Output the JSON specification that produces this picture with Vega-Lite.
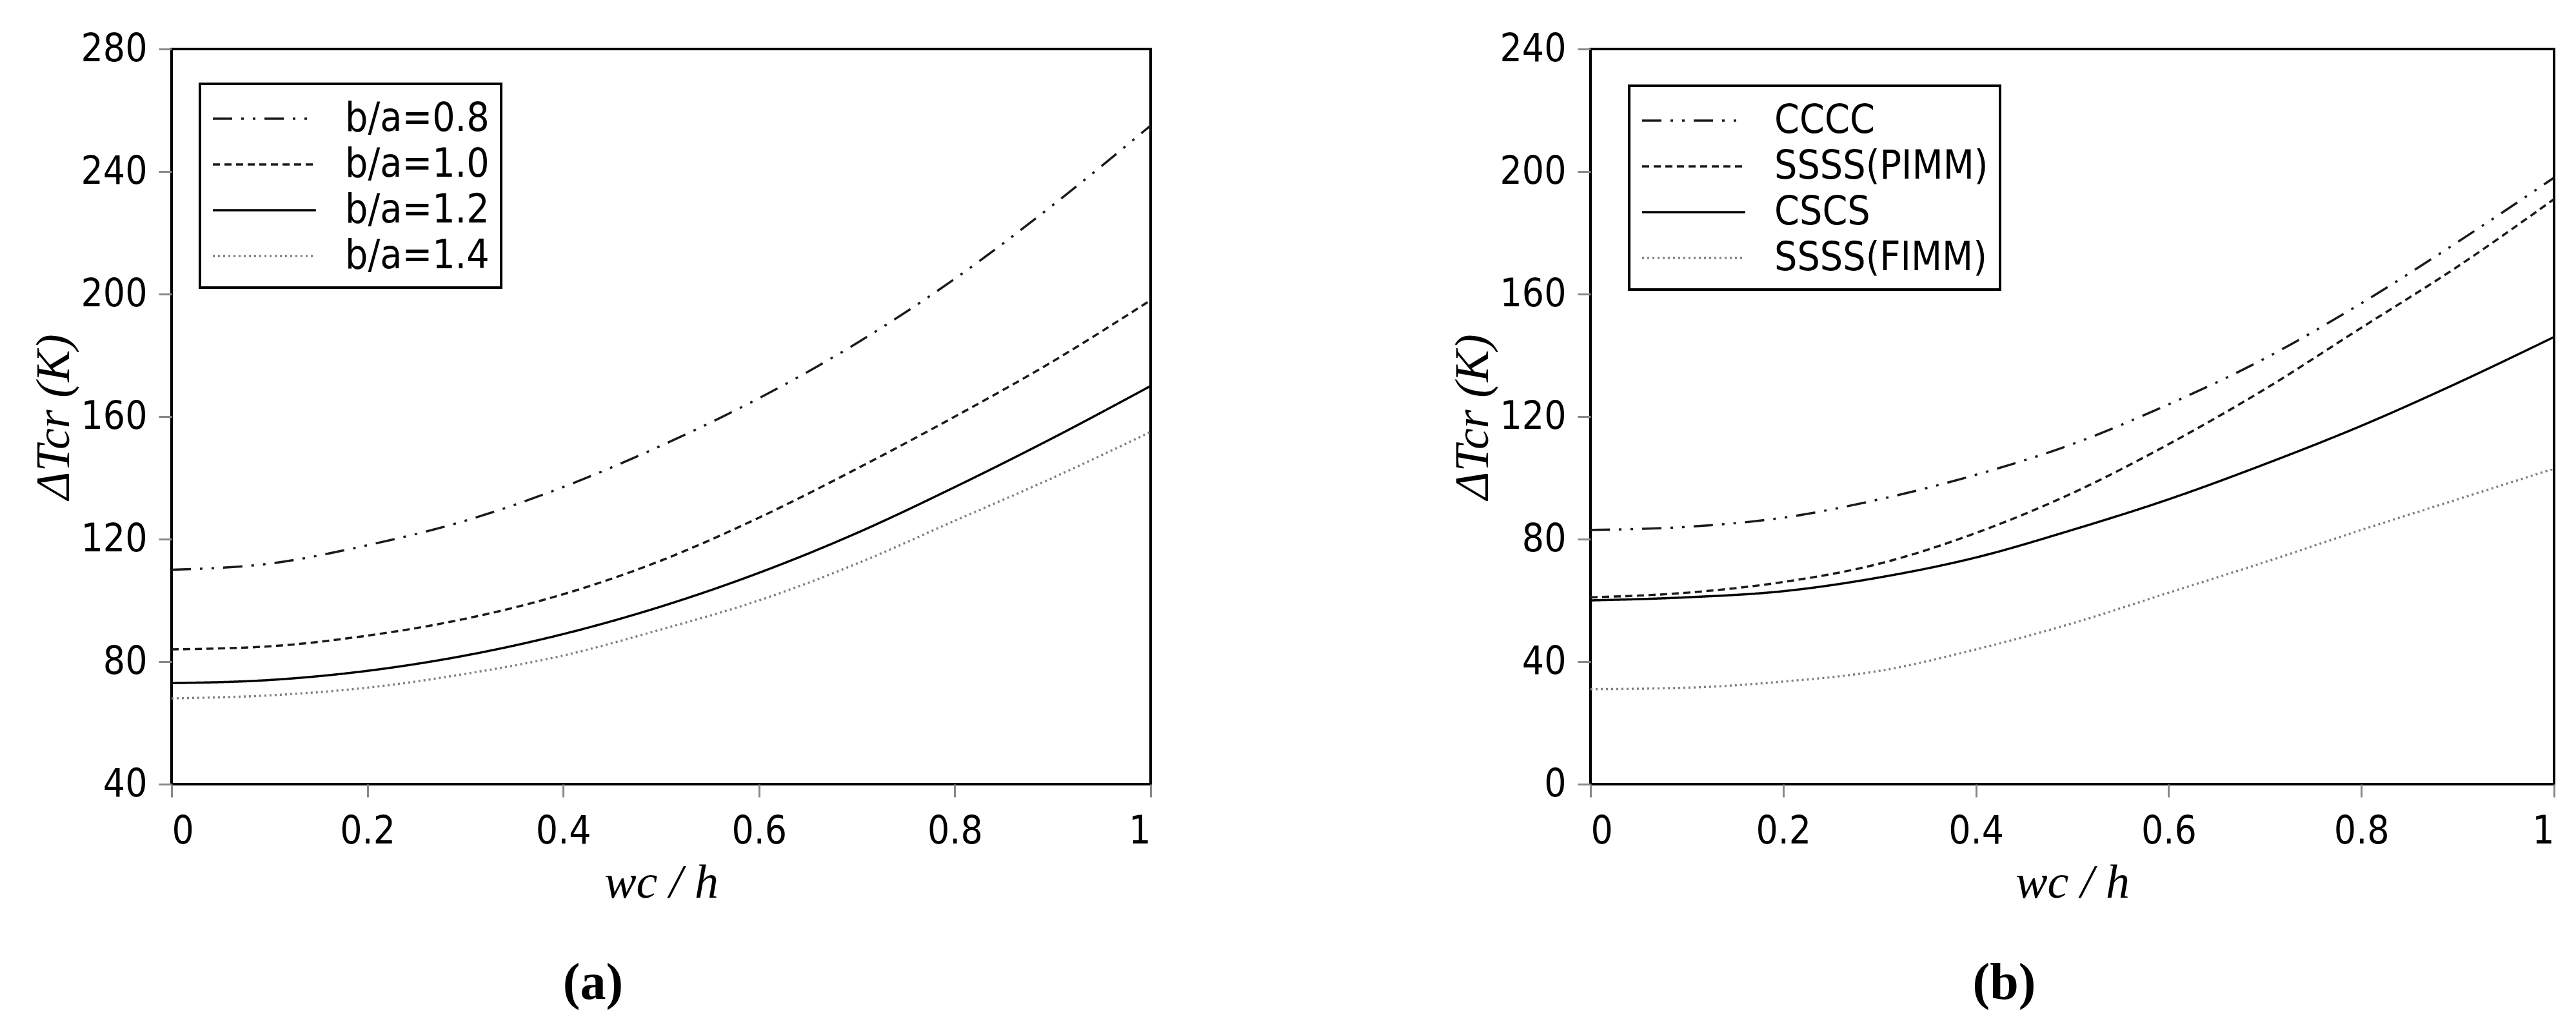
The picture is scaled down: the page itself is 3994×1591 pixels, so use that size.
{
  "$schema": "https://vega.github.io/schema/vega-lite/v6.json",
  "background": "white",
  "padding": {"left": 45, "top": 44, "right": 10, "bottom": 10},
  "spacing": 452,
  "config": {
    "view": {"stroke": "black", "strokeWidth": 4},
    "axis": {
      "domain": false, "grid": false, "ticks": true, "tickColor": "#888888", "tickWidth": 3, "tickSize": 20,
      "labelFont": "Liberation Sans Narrow, DejaVu Sans Condensed, Liberation Sans", "labelFontSize": 60, "labelColor": "black",
      "titleFont": "Liberation Serif", "titleFontStyle": "italic", "titleFontWeight": "normal", "titleFontSize": 74, "titleColor": "black"
    },
    "axisX": {"labelPadding": 24, "titlePadding": 14},
    "axisY": {"labelPadding": 18, "titlePadding": 2},
    "legend": {
      "orient": "none", "fillColor": "white", "strokeColor": "black", "strokeWidth": 4, "padding": 18,
      "symbolType": "M -1 0 L 3.7 0", "symbolSize": 4624, "symbolStrokeWidth": 3.5,
      "labelFont": "Liberation Sans Narrow, DejaVu Sans Condensed, Liberation Sans", "labelFontSize": 62, "labelColor": "black",
      "labelOffset": 135, "labelLimit": 1000, "rowPadding": 4
    },
    "title": {"font": "Liberation Serif", "fontWeight": "bold", "fontSize": 80, "color": "black"}
  },
  "resolve": {"scale": {"color": "independent", "strokeDash": "independent"}},
  "hconcat": [
    {
      "width": 1518, "height": 1140,
      "title": {"text": "(a)", "orient": "bottom", "anchor": "middle", "frame": "bounds", "offset": 80},
      "data": {"values": [
        {"s": "b/a=0.8", "x": 0, "y": 110}, {"s": "b/a=0.8", "x": 0.1, "y": 112}, {"s": "b/a=0.8", "x": 0.2, "y": 118}, {"s": "b/a=0.8", "x": 0.3, "y": 126}, {"s": "b/a=0.8", "x": 0.4, "y": 137}, {"s": "b/a=0.8", "x": 0.5, "y": 150.5}, {"s": "b/a=0.8", "x": 0.6, "y": 166}, {"s": "b/a=0.8", "x": 0.7, "y": 184}, {"s": "b/a=0.8", "x": 0.8, "y": 205}, {"s": "b/a=0.8", "x": 0.9, "y": 229}, {"s": "b/a=0.8", "x": 1, "y": 255},
        {"s": "b/a=1.0", "x": 0, "y": 84}, {"s": "b/a=1.0", "x": 0.1, "y": 85}, {"s": "b/a=1.0", "x": 0.2, "y": 88.5}, {"s": "b/a=1.0", "x": 0.3, "y": 94}, {"s": "b/a=1.0", "x": 0.4, "y": 102}, {"s": "b/a=1.0", "x": 0.5, "y": 113}, {"s": "b/a=1.0", "x": 0.6, "y": 127}, {"s": "b/a=1.0", "x": 0.7, "y": 143}, {"s": "b/a=1.0", "x": 0.8, "y": 160}, {"s": "b/a=1.0", "x": 0.9, "y": 178}, {"s": "b/a=1.0", "x": 1, "y": 198},
        {"s": "b/a=1.2", "x": 0, "y": 73}, {"s": "b/a=1.2", "x": 0.1, "y": 74}, {"s": "b/a=1.2", "x": 0.2, "y": 77}, {"s": "b/a=1.2", "x": 0.3, "y": 82}, {"s": "b/a=1.2", "x": 0.4, "y": 89}, {"s": "b/a=1.2", "x": 0.5, "y": 98}, {"s": "b/a=1.2", "x": 0.6, "y": 109}, {"s": "b/a=1.2", "x": 0.7, "y": 122}, {"s": "b/a=1.2", "x": 0.8, "y": 137}, {"s": "b/a=1.2", "x": 0.9, "y": 153}, {"s": "b/a=1.2", "x": 1, "y": 170},
        {"s": "b/a=1.4", "x": 0, "y": 68}, {"s": "b/a=1.4", "x": 0.1, "y": 69}, {"s": "b/a=1.4", "x": 0.2, "y": 71.5}, {"s": "b/a=1.4", "x": 0.3, "y": 76}, {"s": "b/a=1.4", "x": 0.4, "y": 82}, {"s": "b/a=1.4", "x": 0.5, "y": 90.5}, {"s": "b/a=1.4", "x": 0.6, "y": 100}, {"s": "b/a=1.4", "x": 0.7, "y": 112}, {"s": "b/a=1.4", "x": 0.8, "y": 126}, {"s": "b/a=1.4", "x": 0.9, "y": 140}, {"s": "b/a=1.4", "x": 1, "y": 155}
      ]},
      "mark": {"type": "line", "interpolate": "monotone", "strokeWidth": 3.5},
      "encoding": {
        "x": {"field": "x", "type": "quantitative", "scale": {"domain": [0, 1], "nice": false}, "axis": {"values": [0, 0.2, 0.4, 0.6, 0.8, 1], "format": "~g", "title": "wc / h"}},
        "y": {"field": "y", "type": "quantitative", "scale": {"domain": [40, 280], "nice": false, "zero": false}, "axis": {"values": [40, 80, 120, 160, 200, 240, 280], "title": "ΔTcr (K)"}},
        "strokeDash": {"field": "s", "type": "nominal", "scale": {"domain": ["b/a=0.8", "b/a=1.0", "b/a=1.2", "b/a=1.4"], "range": [[30, 14, 4, 14, 4, 14], [11, 7], [1, 0], [3, 5]]}, "legend": {"title": null, "legendX": 44, "legendY": 54}},
        "color": {"field": "s", "type": "nominal", "scale": {"domain": ["b/a=0.8", "b/a=1.0", "b/a=1.2", "b/a=1.4"], "range": ["#1a1a1a", "#1a1a1a", "#000000", "#808080"]}, "legend": {"title": null, "legendX": 44, "legendY": 54}}
      }
    },
    {
      "width": 1494, "height": 1140,
      "title": {"text": "(b)", "orient": "bottom", "anchor": "middle", "frame": "bounds", "offset": 80},
      "data": {"values": [
        {"s": "CCCC", "x": 0, "y": 83}, {"s": "CCCC", "x": 0.1, "y": 84}, {"s": "CCCC", "x": 0.2, "y": 87}, {"s": "CCCC", "x": 0.3, "y": 93}, {"s": "CCCC", "x": 0.4, "y": 101}, {"s": "CCCC", "x": 0.5, "y": 111}, {"s": "CCCC", "x": 0.6, "y": 124}, {"s": "CCCC", "x": 0.7, "y": 139}, {"s": "CCCC", "x": 0.8, "y": 157}, {"s": "CCCC", "x": 0.9, "y": 177}, {"s": "CCCC", "x": 1, "y": 198},
        {"s": "SSSS(PIMM)", "x": 0, "y": 61}, {"s": "SSSS(PIMM)", "x": 0.1, "y": 62.5}, {"s": "SSSS(PIMM)", "x": 0.2, "y": 66}, {"s": "SSSS(PIMM)", "x": 0.3, "y": 72}, {"s": "SSSS(PIMM)", "x": 0.4, "y": 82}, {"s": "SSSS(PIMM)", "x": 0.5, "y": 95}, {"s": "SSSS(PIMM)", "x": 0.6, "y": 111}, {"s": "SSSS(PIMM)", "x": 0.7, "y": 129}, {"s": "SSSS(PIMM)", "x": 0.8, "y": 149}, {"s": "SSSS(PIMM)", "x": 0.9, "y": 169}, {"s": "SSSS(PIMM)", "x": 1, "y": 191},
        {"s": "CSCS", "x": 0, "y": 60}, {"s": "CSCS", "x": 0.1, "y": 61}, {"s": "CSCS", "x": 0.2, "y": 63}, {"s": "CSCS", "x": 0.3, "y": 67.5}, {"s": "CSCS", "x": 0.4, "y": 74}, {"s": "CSCS", "x": 0.5, "y": 83}, {"s": "CSCS", "x": 0.6, "y": 93}, {"s": "CSCS", "x": 0.7, "y": 104.5}, {"s": "CSCS", "x": 0.8, "y": 117}, {"s": "CSCS", "x": 0.9, "y": 131}, {"s": "CSCS", "x": 1, "y": 146},
        {"s": "SSSS(FIMM)", "x": 0, "y": 31}, {"s": "SSSS(FIMM)", "x": 0.1, "y": 31.5}, {"s": "SSSS(FIMM)", "x": 0.2, "y": 33.5}, {"s": "SSSS(FIMM)", "x": 0.3, "y": 37}, {"s": "SSSS(FIMM)", "x": 0.4, "y": 44}, {"s": "SSSS(FIMM)", "x": 0.5, "y": 52.5}, {"s": "SSSS(FIMM)", "x": 0.6, "y": 62.5}, {"s": "SSSS(FIMM)", "x": 0.7, "y": 72.5}, {"s": "SSSS(FIMM)", "x": 0.8, "y": 83}, {"s": "SSSS(FIMM)", "x": 0.9, "y": 93}, {"s": "SSSS(FIMM)", "x": 1, "y": 103}
      ]},
      "mark": {"type": "line", "interpolate": "monotone", "strokeWidth": 3.5},
      "encoding": {
        "x": {"field": "x", "type": "quantitative", "scale": {"domain": [0, 1], "nice": false}, "axis": {"values": [0, 0.2, 0.4, 0.6, 0.8, 1], "format": "~g", "title": "wc / h"}},
        "y": {"field": "y", "type": "quantitative", "scale": {"domain": [0, 240], "nice": false}, "axis": {"values": [0, 40, 80, 120, 160, 200, 240], "title": "ΔTcr (K)"}},
        "strokeDash": {"field": "s", "type": "nominal", "scale": {"domain": ["CCCC", "SSSS(PIMM)", "CSCS", "SSSS(FIMM)"], "range": [[30, 14, 4, 14, 4, 14], [11, 7], [1, 0], [3, 5]]}, "legend": {"title": null, "legendX": 60, "legendY": 57}},
        "color": {"field": "s", "type": "nominal", "scale": {"domain": ["CCCC", "SSSS(PIMM)", "CSCS", "SSSS(FIMM)"], "range": ["#1a1a1a", "#1a1a1a", "#000000", "#808080"]}, "legend": {"title": null, "legendX": 60, "legendY": 57}}
      }
    }
  ]
}
